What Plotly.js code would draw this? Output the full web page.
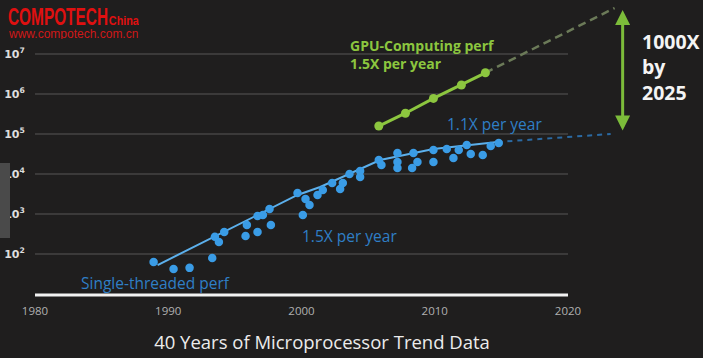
<!DOCTYPE html>
<html>
<head>
<meta charset="utf-8">
<script src="https://cdn.plot.ly/plotly-3.0.1.min.js"></script>
<style>
html,body{margin:0;padding:0;background:#1f1e1e;}
#chart{width:703px;height:358px;}
</style>
</head>
<body>
<div id="chart"></div>
<script>
// Single-threaded performance (scatter)
const stYears = [1988.9, 1990.4, 1991.6, 1993.3, 1993.5, 1993.8, 1994.2, 1995.8, 1995.9, 1996.7,
                 1996.7, 1997.1, 1997.6, 1997.7, 1999.7, 2000.1, 2000.3, 2000.6, 2001.2, 2001.6,
                 2002.3, 2002.9, 2003.1, 2003.6, 2004.4, 2004.4, 2005.8, 2006.0, 2007.2, 2007.2,
                 2007.2, 2008.3, 2008.4, 2008.7, 2009.9, 2009.9, 2010.9, 2011.4, 2011.8, 2012.4,
                 2012.7, 2013.6, 2014.2, 2014.8];
const stPerf = [63, 42, 45, 79, 270, 200, 355, 280, 530, 355,
                890, 940, 1330, 530, 3350, 940, 2370, 1680, 2990, 3980,
                5960, 4220, 5960, 10000, 11900, 8400, 22400, 16800, 33500, 20000,
                14100, 14100, 33500, 20000, 39800, 20000, 42200, 25100, 39800, 53100,
                31600, 29900, 50100, 59600];
// Single-threaded trend and projection
const stTrendYears = [1989.2, 1999.7, 2001.4, 2005.9, 2009.9, 2014.7];
const stTrendPerf = [53, 2990, 4730, 22400, 42200, 63100];
const stProjYears = [2014.7, 2023.2];
const stProjPerf = [63100, 100000];
// GPU computing performance and projection
const gpuYears = [2005.8, 2007.8, 2009.9, 2012.0, 2013.8];
const gpuPerf = [158000, 331000, 776000, 1680000, 3390000];
const gpuProjYears = [2013.8, 2023.5];
const gpuProjPerf = [3390000, 141000000];
// Axis ticks
const xTickVals = [1980, 1990, 2000, 2010, 2020];
const xTickText = ['1980', '1990', '2000', '2010', '2020'];
const yTickVals = [1e2, 1e3, 1e4, 1e5, 1e6, 1e7];
const yTickText = ['10<sup>2</sup>', '10<sup>3</sup>', '10<sup>4</sup>', '10<sup>5</sup>', '10<sup>6</sup>', '10<sup>7</sup>'];
// 1000X gap arrow (year, bottom perf, top perf)
const gapYear = 2024.1;
const gapPerf = [112000, 126000000];

const blueText = '#2f7fc6';
const greenText = '#8cc63f';

const traces = [
  {x: stTrendYears, y: stTrendPerf, mode: 'lines', line: {color: '#5cb0ec', width: 2}, hoverinfo: 'skip'},
  {x: stProjYears, y: stProjPerf, mode: 'lines', line: {color: '#2b6aa3', width: 2, dash: '5px,5px'}, hoverinfo: 'skip'},
  {x: stYears, y: stPerf, mode: 'markers', marker: {color: '#3a9ce6', size: 8.5}},
  {x: gpuProjYears, y: gpuProjPerf, mode: 'lines', line: {color: '#6b7a58', width: 2.5, dash: '8px,5px'}, hoverinfo: 'skip'},
  {x: gpuYears, y: gpuPerf, mode: 'lines+markers', line: {color: '#8cc63f', width: 3}, marker: {color: '#8cc63f', size: 9}}
];

const shapes = [];
yTickVals.forEach(v => {
  shapes.push({type: 'line', xref: 'x', yref: 'y', x0: 1980, x1: 2020, y0: v, y1: v,
               line: {color: '#464444', width: 1.5}, layer: 'below'});
});
shapes.push({type: 'line', xref: 'x', yref: 'paper', x0: 1980, x1: 2020, y0: 0, y1: 0,
             line: {color: '#f2f2f2', width: 3}});
shapes.push({type: 'rect', xref: 'paper', yref: 'paper', x0: -35/668, x1: -25/668,
             y0: (295-238)/295, y1: (295-163)/295, fillcolor: '#4a4a4a', line: {width: 0}, layer: 'above'});

const annotations = [
  {x: -28/668, y: (295-17.5)/295, xref: 'paper', yref: 'paper', xanchor: 'left', yanchor: 'middle', showarrow: false,
   width: 100, height: 18, borderpad: 0,
   text: 'COMPOTECH', font: {family: 'Liberation Sans', size: 23, color: '#e01010', weight: 'bold'}},
  {x: 73/668, y: (295-20.5)/295, xref: 'paper', yref: 'paper', xanchor: 'left', yanchor: 'middle', showarrow: false,
   width: 30, height: 11, borderpad: 0,
   text: 'China', font: {family: 'Liberation Sans', size: 12, color: '#e01010', weight: 'bold'}},
  {x: -28/668, y: (295-33.5)/295, xref: 'paper', yref: 'paper', xanchor: 'left', yanchor: 'middle', showarrow: false,
   height: 11, borderpad: 0,
   text: 'www.compotech.com.cn', font: {family: 'Liberation Sans', size: 12, color: '#d01818'}},
  {x: 2003.5, y: 7.0, xref: 'x', yref: 'y', xanchor: 'left', yanchor: 'middle', align: 'left', showarrow: false,
   text: 'GPU-Computing perf<br>1.5X per year', font: {family: 'Open Sans', size: 14, color: greenText, weight: 'bold'}},
  {x: 2010.8, y: 5.25, xref: 'x', yref: 'y', xanchor: 'left', yanchor: 'middle', showarrow: false,
   text: '1.1X per year', font: {family: 'Open Sans', size: 15.5, color: blueText}},
  {x: 1999.9, y: 2.45, xref: 'x', yref: 'y', xanchor: 'left', yanchor: 'middle', showarrow: false,
   text: '1.5X per year', font: {family: 'Open Sans', size: 15.5, color: blueText}},
  {x: 1983.3, y: 1.275, xref: 'x', yref: 'y', xanchor: 'left', yanchor: 'middle', showarrow: false,
   text: 'Single-threaded perf', font: {family: 'Open Sans', size: 15.5, color: blueText}},
  {x: 2025.4, y: 6.68, xref: 'x', yref: 'y', xanchor: 'left', yanchor: 'middle', align: 'left', showarrow: false,
   text: '1000X<br>by<br>2025', font: {family: 'Open Sans', size: 19.5, color: '#f4f4f4', weight: 'bold'}},
  {x: gapYear, y: Math.log10(gapPerf[1]), ax: gapYear, ay: Math.log10(gapPerf[0]), xref: 'x', yref: 'y', axref: 'x', ayref: 'y',
   text: '', showarrow: true, arrowhead: 2, arrowside: 'end+start', arrowsize: 1, arrowwidth: 3, arrowcolor: '#7cbc3a', standoff: 0, startstandoff: 0}
];

const layout = {
  width: 703, height: 358,
  margin: {l: 35, r: 0, t: 0, b: 63},
  paper_bgcolor: '#1f1e1e', plot_bgcolor: '#1f1e1e',
  showlegend: false,
  title: {text: '40 Years of Microprocessor Trend Data', x: 322/703, xanchor: 'center', xref: 'container',
          y: 1 - 343/358, yanchor: 'middle', yref: 'container',
          font: {family: 'Open Sans', size: 18.5, color: '#ececec'}},
  xaxis: {type: 'linear', range: [1980, 2030.13], showgrid: false, zeroline: false, showline: false,
          tickvals: xTickVals, ticktext: xTickText, ticks: 'outside', ticklen: 5, tickcolor: 'rgba(0,0,0,0)',
          tickfont: {family: 'Open Sans', size: 11.5, color: '#b0b0b0'}},
  yaxis: {type: 'log', range: [0.975, 8.35], showgrid: false, zeroline: false, showline: false,
          tickvals: yTickVals, ticktext: yTickText, ticks: 'outside', ticklen: 7, tickcolor: 'rgba(0,0,0,0)',
          tickfont: {family: 'DejaVu Sans', size: 11, color: '#dedede', weight: 'bold'}},
  shapes: shapes,
  annotations: annotations
};

Plotly.newPlot('chart', traces, layout, {displayModeBar: false, staticPlot: true}).then(gd => {
  gd.querySelectorAll('.annotation-text').forEach(t => {
    if (t.textContent === 'COMPOTECH') {
      t.setAttribute('textLength', '100');
      t.setAttribute('lengthAdjust', 'spacingAndGlyphs');
    } else if (t.textContent === 'China') {
      t.setAttribute('textLength', '30');
      t.setAttribute('lengthAdjust', 'spacingAndGlyphs');
    }
  });
});
</script>
</body>
</html>
